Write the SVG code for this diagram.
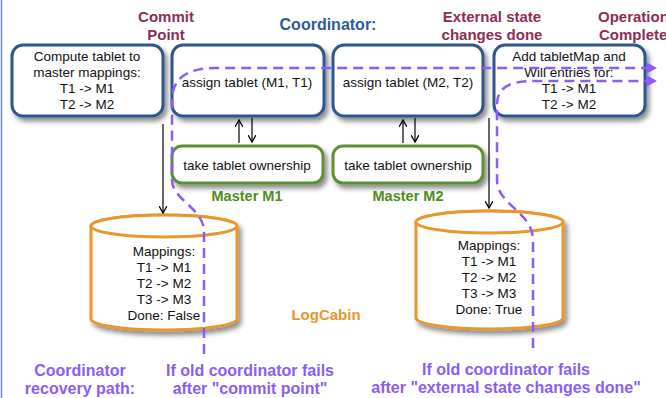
<svg xmlns="http://www.w3.org/2000/svg" width="666" height="398" viewBox="0 0 666 398">
<defs>
<filter id="sh" x="-10%" y="-10%" width="130%" height="140%">
<feDropShadow dx="3" dy="4" stdDeviation="2.5" flood-color="#000" flood-opacity="0.45"/>
</filter>
<marker id="ah" markerWidth="8" markerHeight="8" refX="7" refY="4" orient="auto" markerUnits="userSpaceOnUse">
<path d="M0,0 L7,4 L0,8" fill="none" stroke="#000" stroke-width="1.3"/>
</marker>
<marker id="ph" markerWidth="12" markerHeight="12" refX="10" refY="6" orient="auto" markerUnits="userSpaceOnUse">
<path d="M0,0 L11,6 L0,12 Z" fill="#8b5cf6"/>
</marker>
<style>
.cb{fill:#fff;stroke:#2f5690;stroke-width:3;filter:url(#sh)}
.mb{fill:#fff;stroke:#5b9130;stroke-width:3;filter:url(#sh)}
.cy{fill:#fff;stroke:#e9962d;stroke-width:3}
.t{font-family:"Liberation Sans",Arial,sans-serif;font-size:13.5px;fill:#111;text-anchor:middle}
.b{font-family:"Liberation Sans",Arial,sans-serif;font-weight:bold;text-anchor:middle}
.mar{fill:#8c2d55;font-size:15px}
.pur{fill:#8b5cf6;font-size:16px}
.grn{fill:#4d8c1e;font-size:14.5px}
.ln{stroke:#000;stroke-width:1.2;fill:none}
.dp{stroke:#8b5cf6;stroke-width:2.5;fill:none;stroke-dasharray:10 6}
</style>
</defs>
<line x1="1.5" y1="0" x2="1.5" y2="398" stroke="#6a8cc0" stroke-width="1.5"/>

<text class="b mar" x="166" y="22">Commit</text>
<text class="b mar" x="166" y="40">Point</text>
<text class="b" x="328" y="30" style="fill:#2e5b9a;font-size:16px">Coordinator:</text>
<text class="b mar" x="492" y="22">External state</text>
<text class="b mar" x="492" y="40">changes done</text>
<text class="b mar" x="598" y="22" style="text-anchor:start">Operation</text>
<text class="b mar" x="599" y="40" style="text-anchor:start">Complete</text>

<g id="compute">
<rect class="cb" x="12" y="45" width="151" height="71" rx="11"/>
<text class="t" x="87" y="61">Compute tablet to</text>
<text class="t" x="87" y="77">master mappings:</text>
<text class="t" x="87" y="93">T1 -&gt; M1</text>
<text class="t" x="87" y="109">T2 -&gt; M2</text>
</g>
<g id="assign1">
<rect class="cb" x="172" y="45" width="152" height="71" rx="11"/>
<text class="t" x="247" y="87">assign tablet (M1, T1)</text>
</g>
<g id="assign2">
<rect class="cb" x="333" y="45" width="150" height="71" rx="11"/>
<text class="t" x="408" y="87">assign tablet (M2, T2)</text>
</g>
<g id="addmap">
<rect class="cb" x="494" y="45" width="151" height="71" rx="11"/>
<text class="t" x="569" y="61">Add tabletMap and</text>
<text class="t" x="569" y="77">Will entries for:</text>
<text class="t" x="569" y="93">T1 -&gt; M1</text>
<text class="t" x="569" y="109">T2 -&gt; M2</text>
</g>
<g id="take1">
<rect class="mb" x="172" y="146" width="151" height="37" rx="10"/>
<text class="t" x="247" y="170">take tablet ownership</text>
<text class="b grn" x="247" y="201">Master M1</text>
</g>
<g id="take2">
<rect class="mb" x="333" y="146" width="150" height="37" rx="10"/>
<text class="t" x="408" y="170">take tablet ownership</text>
<text class="b grn" x="408" y="201">Master M2</text>
</g>
<g id="log1">
<path class="cy" filter="url(#sh)" d="M91,226 L91,319 A73,11 0 0 0 237,319 L237,226 A73,11 0 0 0 91,226 Z"/>
<ellipse class="cy" cx="164" cy="226" rx="73" ry="11"/>
<text class="t" x="164" y="256">Mappings:</text>
<text class="t" x="164" y="272">T1 -&gt; M1</text>
<text class="t" x="164" y="288">T2 -&gt; M2</text>
<text class="t" x="164" y="304">T3 -&gt; M3</text>
<text class="t" x="164" y="320">Done: False</text>
</g>
<g id="log2">
<path class="cy" filter="url(#sh)" d="M416,222 L416,318 A73.5,11 0 0 0 563,318 L563,222 A73.5,11 0 0 0 416,222 Z"/>
<ellipse class="cy" cx="489.5" cy="222" rx="73.5" ry="11"/>
<text class="t" x="489" y="250">Mappings:</text>
<text class="t" x="489" y="266">T1 -&gt; M1</text>
<text class="t" x="489" y="282">T2 -&gt; M2</text>
<text class="t" x="489" y="298">T3 -&gt; M3</text>
<text class="t" x="489" y="314">Done: True</text>
</g>
<text class="b" x="326" y="320" style="fill:#e9962d;font-size:15px">LogCabin</text>

<g id="connectors">
<line class="ln" x1="239" y1="143" x2="239" y2="120" marker-end="url(#ah)"/>
<line class="ln" x1="252" y1="118" x2="252" y2="142" marker-end="url(#ah)"/>
<line class="ln" x1="403" y1="143" x2="403" y2="120" marker-end="url(#ah)"/>
<line class="ln" x1="415" y1="118" x2="415" y2="142" marker-end="url(#ah)"/>
<line class="ln" x1="163" y1="124" x2="163" y2="213" marker-end="url(#ah)"/>
<line class="ln" x1="489" y1="118" x2="489" y2="208" marker-end="url(#ah)"/>
<path class="dp" d="M204,354 L204,232 C204,208 172,200 172,180 L172,100 C172,80 185,68 215,68 L656,68" marker-end="url(#ph)"/>
<path class="dp" d="M533,348 L533,240 C533,212 497,205 497,180 L497,105 C497,90 505,81 535,81 L656,81" marker-end="url(#ph)"/>
</g>

<text class="b pur" x="80" y="376">Coordinator</text>
<text class="b pur" x="80" y="394">recovery path:</text>
<text class="b pur" x="250" y="376">If old coordinator fails</text>
<text class="b pur" x="250" y="394">after "commit point"</text>
<text class="b pur" x="506" y="375">If old coordinator fails</text>
<text class="b pur" x="506" y="393">after "external state changes done"</text>
</svg>
